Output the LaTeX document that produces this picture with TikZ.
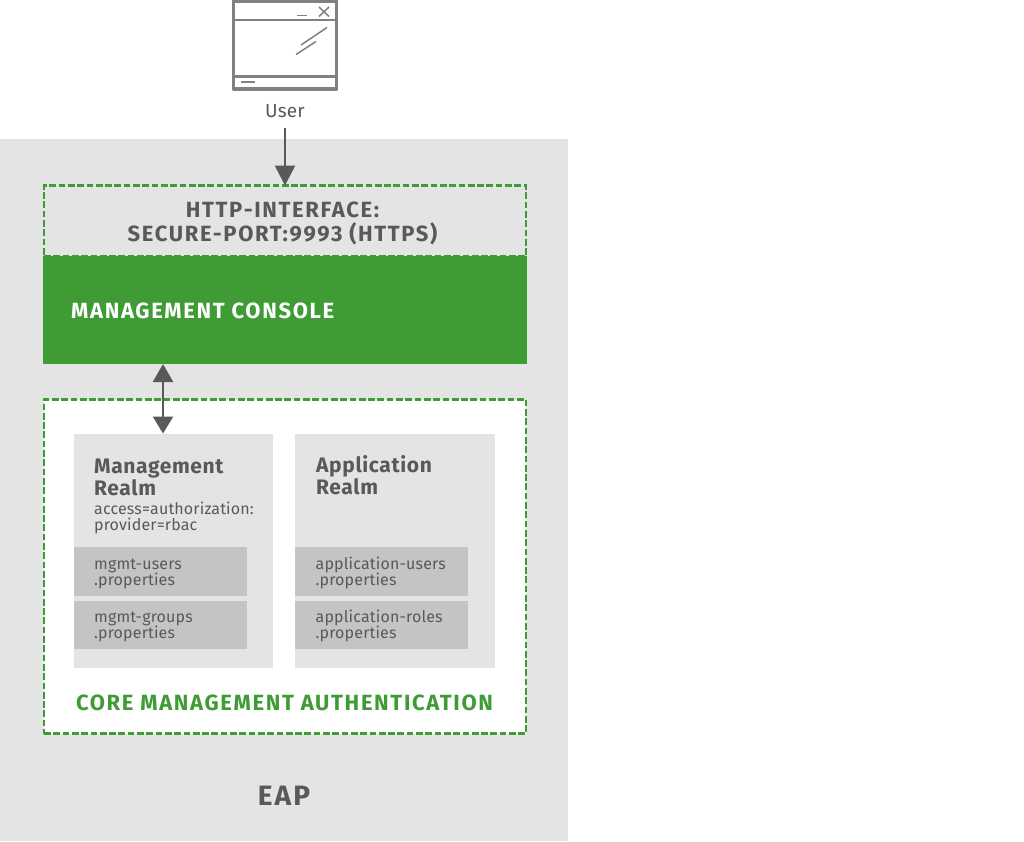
\documentclass[tikz,border=0pt]{standalone}
\usepackage{fontspec}
\setmainfont{Fira Sans}
\newfontfamily\capsfont[LetterSpace=7.5]{Fira Sans}
\newfontfamily\titlefont[LetterSpace=3]{Fira Sans}
\newfontfamily\smallfont[LetterSpace=1]{Fira Sans}
\usetikzlibrary{arrows.meta}
\definecolor{eapgray}{HTML}{E4E4E4}
\definecolor{midgray}{HTML}{C4C4C4}
\definecolor{ink}{HTML}{58595B}
\definecolor{icon}{HTML}{808080}
\definecolor{rhgreen}{HTML}{3F9C35}
\tikzset{
  x=1pt,y=-1pt,
  area/.style={draw=none,fill=#1,minimum width=0pt,inner sep=0pt,outer sep=0pt},
  dashbox/.style={draw=rhgreen,line width=2.6pt,dash pattern=on 6.7pt off 2.6pt},
  realmtitle/.style={anchor=north west,inner sep=0pt,align=left,text=ink,font=\titlefont\fontsize{21}{22}\selectfont\bfseries},
  small/.style={anchor=north west,inner sep=0pt,align=left,text=ink,font=\smallfont\fontsize{16}{16}\selectfont},
  caps/.style={inner sep=0pt,font=\capsfont\fontsize{22}{23.5}\selectfont\bfseries},
  iconline/.style={draw=icon,line width=1.5pt},
  conn/.style={draw=ink,line width=2.4pt,-{Triangle[length=20pt,width=20pt]}},
  connb/.style={draw=ink,line width=2.4pt,{Triangle[length=18pt,width=20pt]}-{Triangle[length=17pt,width=20pt]}},
}
\newcommand{\boxat}[6][]{\node[area=#6,minimum width=#4pt,minimum height=#5pt,anchor=north west,#1] (#2) at #3 {};}
\begin{document}
\begin{tikzpicture}
\useasboundingbox (0,0) rectangle (1024,841);
\fill[white] (0,0) rectangle (1024,841);
% EAP background
\boxat{eap}{(0,139)}{568}{702}{eapgray}
% window icon
\draw[icon,line width=3.4pt,line join=round] (233.5,1) rectangle (336.5,89);
\draw[iconline,line width=2.6pt] (233.5,20) -- (336.5,20);
\draw[iconline,line width=2.6pt] (233.5,76.5) -- (336.5,76.5);
\draw[iconline] (297,15.5) -- (307,15.5);
\draw[iconline] (319,7) -- (329,16.5);
\draw[iconline] (329,7) -- (319,16.5);
\draw[iconline] (327,27.5) -- (301,45);
\draw[iconline] (316,41.5) -- (296,54.5);
\draw[iconline] (241,82) -- (254.5,82);
\node[inner sep=0pt,text=ink,font=\smallfont\fontsize{19}{20}\selectfont] (user) at (285,111.5) {User};
% http
\boxat[dashbox]{http}{(44,185.5)}{482}{71}{eapgray}
\node[caps,align=center,text=ink] (httpt) at (282.5,223.5) {HTTP-INTERFACE:\\SECURE-PORT:9993 (HTTPS)};
% console
\boxat{console}{(43,256)}{484}{108}{rhgreen}
\node[caps,anchor=west,text=white] (consolet) at (71,310.5) {MANAGEMENT CONSOLE};
% core
\boxat[dashbox]{core}{(44,399.5)}{482}{334}{white}
\boxat{mrealm}{(74,433.5)}{199}{234.5}{eapgray}
\boxat{arealm}{(295,433.5)}{199.5}{234.5}{eapgray}
\node[realmtitle] (mt) at (94,458.5) {Management\\Realm};
\node[realmtitle] (at) at (316,455) {Application\\Realm};
\node[small] (acc) at (94,502) {access=authorization:\\provider=rbac};
\boxat{mu}{(74,547)}{172.5}{49}{midgray}
\boxat{mg}{(74,600.5)}{172.5}{48.5}{midgray}
\boxat{au}{(295,547)}{172.5}{49}{midgray}
\boxat{ag}{(295,600.5)}{172.5}{48.5}{midgray}
\node[small] (mut) at (94,558.5) {mgmt-users\\.properties};
\node[small] (mgt) at (94,612) {mgmt-groups\\.properties};
\node[small] (aut) at (315.5,556.5) {application-users\\.properties};
\node[small] (agt) at (315.5,610) {application-roles\\.properties};
\node[caps,text=rhgreen] (coret) at (284.5,703) {CORE MANAGEMENT AUTHENTICATION};
\node[caps,text=ink,font=\capsfont\fontsize{28}{30}\selectfont\bfseries] (eapt) at (284,796) {EAP};
% connectors
\coordinate (arrowx) at (163,400);
\draw[conn] (user.south |- 0,128) -- (http.north);
\draw[connb] (console.south -| arrowx) -- (mrealm.north -| arrowx);
\end{tikzpicture}
\end{document}
